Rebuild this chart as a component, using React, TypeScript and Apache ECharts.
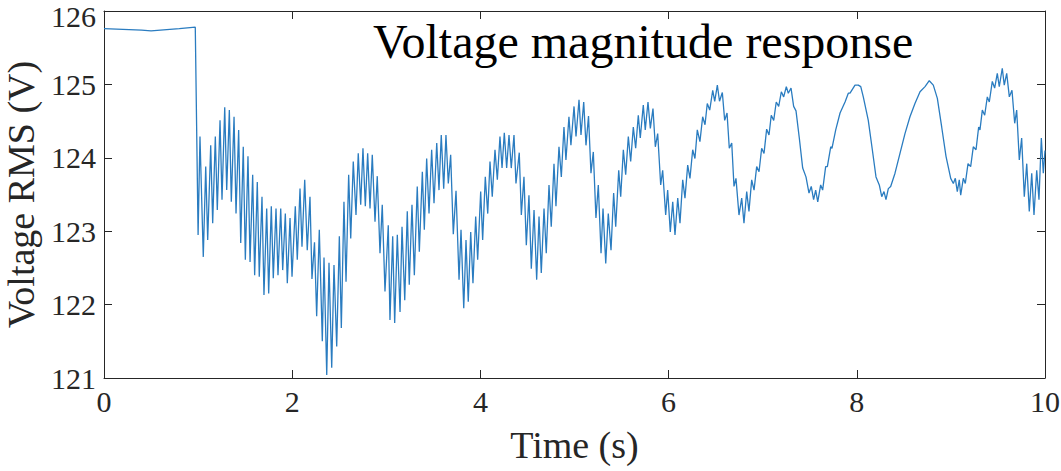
import React, { useEffect, useRef } from "react";
import * as echarts from "echarts";

// Time (s), Voltage RMS (V) pairs
const seg0to1: [number, number][] = [
  [0, 125.76], [0.2, 125.75], [0.4, 125.74], [0.5, 125.73], [0.6, 125.74], [0.8, 125.76], [0.97, 125.78],
  [1.0, 122.95],
];

const seg1to2_5: [number, number][] = [
  [1.02, 124.29], [1.055, 122.65], [1.081, 123.88], [1.102, 122.88], [1.134, 124.17], [1.155, 123.11],
  [1.183, 124.29], [1.204, 123.29], [1.233, 124.51], [1.254, 123.43], [1.283, 124.69], [1.304, 123.56],
  [1.332, 124.65], [1.353, 123.4], [1.382, 124.56], [1.403, 123.24], [1.431, 124.38], [1.453, 122.84],
  [1.48, 124.15], [1.502, 122.61], [1.53, 124.02], [1.552, 122.58], [1.58, 123.77], [1.601, 122.4],
  [1.629, 123.67], [1.65, 122.38], [1.679, 123.47], [1.7, 122.13], [1.729, 123.31], [1.75, 122.15],
  [1.778, 123.34], [1.799, 122.36], [1.828, 123.31], [1.849, 122.4], [1.878, 123.31], [1.899, 122.47],
  [1.927, 123.24], [1.948, 122.29], [1.977, 123.18], [1.998, 122.38], [2.033, 123.34], [2.054, 122.61],
  [2.083, 123.58], [2.104, 122.79], [2.133, 123.7], [2.16, 122.74], [2.189, 123.47], [2.21, 122.35],
  [2.237, 122.85], [2.26, 121.84], [2.288, 123.02], [2.32, 121.5], [2.338, 122.64], [2.367, 121.04],
  [2.391, 122.57], [2.42, 121.14], [2.444, 122.54], [2.473, 121.43],
];

const seg2_5to5: [number, number][] = [
  [2.501, 122.93], [2.522, 121.68], [2.55, 123.4], [2.572, 122.31], [2.6, 123.77], [2.622, 122.9],
  [2.649, 123.95], [2.678, 123.22], [2.702, 124.06], [2.728, 123.36], [2.752, 124.13], [2.777, 123.34],
  [2.802, 124.06], [2.827, 123.31], [2.851, 124.04], [2.88, 123.13], [2.904, 123.75], [2.933, 122.7],
  [2.957, 123.36], [2.986, 122.18], [3.021, 123.08], [3.039, 121.79], [3.068, 122.93], [3.089, 121.75],
  [3.117, 122.95], [3.146, 121.9], [3.167, 123.06], [3.196, 122.06], [3.223, 123.27], [3.244, 122.27],
  [3.273, 123.36], [3.298, 122.4], [3.329, 123.61], [3.351, 122.72], [3.383, 123.81], [3.404, 123.02],
  [3.429, 123.99], [3.454, 123.24], [3.482, 124.11], [3.507, 123.38], [3.536, 124.2], [3.56, 123.56],
  [3.584, 124.31], [3.61, 123.58], [3.634, 124.31], [3.659, 123.65], [3.684, 124.04], [3.712, 122.96],
  [3.741, 123.55], [3.773, 122.34], [3.794, 123.02], [3.823, 121.95], [3.847, 122.88], [3.871, 122.04],
  [3.897, 122.99], [3.921, 122.29], [3.95, 123.2], [3.971, 122.61], [4.003, 123.54], [4.024, 122.88],
  [4.052, 123.74], [4.078, 123.24], [4.102, 123.95], [4.126, 123.47], [4.155, 124.11], [4.18, 123.7],
  [4.208, 124.29], [4.23, 123.86], [4.254, 124.34], [4.279, 123.86], [4.304, 124.31], [4.328, 123.86],
  [4.357, 124.31], [4.378, 123.65], [4.413, 124.07], [4.435, 123.22], [4.463, 123.74], [4.488, 122.81],
  [4.516, 123.49], [4.541, 122.49], [4.57, 123.29], [4.598, 122.34], [4.623, 123.2], [4.647, 122.43],
  [4.676, 123.31], [4.7, 122.7], [4.729, 123.63], [4.753, 123.06], [4.782, 123.92], [4.803, 123.34],
  [4.835, 124.15], [4.86, 123.74], [4.888, 124.42], [4.909, 123.97], [4.941, 124.56], [4.962, 124.17],
  [4.995, 124.7],
];

const seg5to7_5: [number, number][] = [
  [5.016, 124.29], [5.048, 124.79], [5.069, 124.31], [5.098, 124.76], [5.122, 124.17], [5.149, 124.57],
  [5.175, 123.79], [5.2, 124.08], [5.228, 123.18], [5.253, 123.63], [5.282, 122.7], [5.303, 123.31],
  [5.332, 122.56], [5.359, 123.24], [5.388, 122.74], [5.416, 123.52], [5.438, 123.06], [5.47, 123.83],
  [5.491, 123.47], [5.519, 124.11], [5.544, 123.77], [5.572, 124.29], [5.597, 123.95], [5.625, 124.42],
  [5.65, 124.13], [5.678, 124.58], [5.699, 124.27], [5.731, 124.72], [5.752, 124.38], [5.781, 124.76],
  [5.806, 124.4], [5.834, 124.67], [5.859, 124.15], [5.884, 124.33], [5.916, 123.63], [5.937, 123.83],
  [5.969, 123.22], [5.99, 123.56], [6.018, 122.99], [6.044, 123.4], [6.068, 122.95], [6.097, 123.45],
  [6.121, 123.11], [6.15, 123.7], [6.174, 123.45], [6.203, 123.9], [6.227, 123.72], [6.256, 124.11],
  [6.28, 123.99], [6.305, 124.38], [6.333, 124.22], [6.362, 124.56], [6.387, 124.45], [6.411, 124.74],
  [6.437, 124.65], [6.469, 124.92], [6.49, 124.77], [6.518, 124.99], [6.541, 124.77], [6.571, 124.89],
  [6.596, 124.51], [6.621, 124.61], [6.645, 124.13], [6.671, 124.2], [6.695, 123.61], [6.716, 123.72],
  [6.748, 123.22], [6.777, 123.45], [6.801, 123.11], [6.83, 123.54], [6.854, 123.27], [6.883, 123.7],
  [6.908, 123.56], [6.936, 123.88], [6.961, 123.81], [6.989, 124.13], [7.014, 124.06], [7.042, 124.39],
  [7.067, 124.31], [7.091, 124.58], [7.117, 124.51], [7.144, 124.76], [7.17, 124.7], [7.198, 124.9],
  [7.223, 124.83], [7.251, 124.97], [7.272, 124.88], [7.301, 124.95], [7.329, 124.7], [7.354, 124.64],
  [7.389, 124.27], [7.425, 123.86], [7.46, 123.74], [7.492, 123.52],
];

const seg7_5to10: [number, number][] = [
  [7.516, 123.61], [7.541, 123.43], [7.563, 123.56], [7.585, 123.4], [7.616, 123.63], [7.637, 123.56],
  [7.669, 123.88], [7.687, 123.88], [7.723, 124.15], [7.736, 124.13], [7.776, 124.38], [7.822, 124.61],
  [7.875, 124.76], [7.91, 124.88], [7.928, 124.88], [7.981, 124.99], [8.016, 124.99], [8.042, 124.97],
  [8.069, 124.83], [8.122, 124.51], [8.165, 124.11], [8.204, 123.74], [8.239, 123.63], [8.265, 123.47],
  [8.289, 123.54], [8.31, 123.43], [8.335, 123.58], [8.36, 123.61], [8.406, 123.79], [8.459, 124.06],
  [8.512, 124.33], [8.565, 124.56], [8.618, 124.74], [8.672, 124.9], [8.725, 124.97], [8.77, 125.05],
  [8.813, 124.99], [8.856, 124.81], [8.902, 124.42], [8.948, 124.02], [8.998, 123.72], [9.026, 123.65],
  [9.047, 123.72], [9.068, 123.54], [9.089, 123.7], [9.104, 123.49], [9.132, 123.72], [9.153, 123.65],
  [9.182, 123.92], [9.21, 123.88], [9.238, 124.15], [9.267, 124.11], [9.295, 124.42], [9.309, 124.38],
  [9.334, 124.65], [9.359, 124.58], [9.387, 124.83], [9.408, 124.76], [9.44, 125.04], [9.465, 124.95],
  [9.493, 125.15], [9.514, 124.97], [9.546, 125.22], [9.567, 124.99], [9.593, 125.15], [9.621, 124.83],
  [9.649, 124.92], [9.678, 124.47], [9.699, 124.65], [9.727, 123.97], [9.752, 124.27], [9.78, 123.47],
  [9.806, 123.92], [9.833, 123.27], [9.859, 123.79], [9.883, 123.22], [9.912, 123.83], [9.936, 123.43],
  [9.961, 124.27], [9.982, 123.79], [10.0, 124.1],
];

const xTicks = { min: 0, max: 10, interval: 2 };
const yTicks = { min: 121, max: 126, interval: 1 };

const chartTitle = "Voltage magnitude response";
const xName = "Time (s)";
const yName = "Voltage RMS (V)";

const FONT = "'Liberation Serif', 'Times New Roman', serif";
const AXIS_COLOR = "#262626";

export default function App() {
  const ref = useRef<HTMLDivElement>(null);
  useEffect(() => {
    if (!ref.current) return;
    const chart = echarts.init(ref.current, undefined, { renderer: "svg" });
    const data = [...seg0to1, ...seg1to2_5, ...seg2_5to5, ...seg5to7_5, ...seg7_5to10];
    const axisLineStyle = { color: AXIS_COLOR, width: 1 };
    const baseX = {
      type: "value" as const,
      min: xTicks.min,
      max: xTicks.max,
      interval: xTicks.interval,
      splitLine: { show: false },
      axisLine: { show: true, onZero: false, lineStyle: axisLineStyle },
      axisTick: { show: true, inside: true, length: 8, lineStyle: axisLineStyle },
    };
    const baseY = {
      type: "value" as const,
      min: yTicks.min,
      max: yTicks.max,
      interval: yTicks.interval,
      splitLine: { show: false },
      axisLine: { show: true, onZero: false, lineStyle: axisLineStyle },
      axisTick: { show: true, inside: true, length: 8, lineStyle: axisLineStyle },
    };
    chart.setOption({
      animation: false,
      backgroundColor: "#ffffff",
      title: {
        text: chartTitle,
        left: 368,
        top: 12,
        textStyle: { fontFamily: FONT, fontSize: 48, fontWeight: "normal", color: "#000" },
      },
      grid: { left: 104, right: 16, top: 11, bottom: 93, containLabel: false, outerBoundsMode: "none" },
      xAxis: [
        {
          ...baseX,
          position: "bottom",
          name: xName,
          nameLocation: "middle",
          nameGap: 48,
          nameTextStyle: { fontFamily: FONT, fontSize: 38, color: AXIS_COLOR },
          axisLabel: { show: true, margin: 8, fontFamily: FONT, fontSize: 30, color: AXIS_COLOR },
        },
        { ...baseX, position: "top", axisLabel: { show: false } },
      ],
      yAxis: [
        {
          ...baseY,
          position: "left",
          name: yName,
          nameLocation: "middle",
          nameGap: 60,
          nameTextStyle: { fontFamily: FONT, fontSize: 38, color: AXIS_COLOR },
          axisLabel: {
            show: true,
            margin: 8,
            fontFamily: FONT,
            fontSize: 30,
            color: AXIS_COLOR,
            formatter: (v: number) => (v === yTicks.max ? `{top|${v}}` : `${v}`),
            rich: {
              top: { fontFamily: FONT, fontSize: 30, color: AXIS_COLOR, padding: [10, 0, 0, 0] },
            },
          },
        },
        { ...baseY, position: "right", axisLabel: { show: false } },
      ],
      series: [
        {
          type: "line",
          xAxisIndex: 0,
          yAxisIndex: 0,
          data,
          showSymbol: false,
          symbol: "none",
          lineStyle: { color: "#2a7cc0", width: 1.3 },
        },
      ],
    });
    return () => chart.dispose();
  }, []);
  return (
    <div
      ref={ref}
      style={{ position: "fixed", left: 0, top: 0, width: 1061, height: 471, background: "#fff" }}
    />
  );
}
